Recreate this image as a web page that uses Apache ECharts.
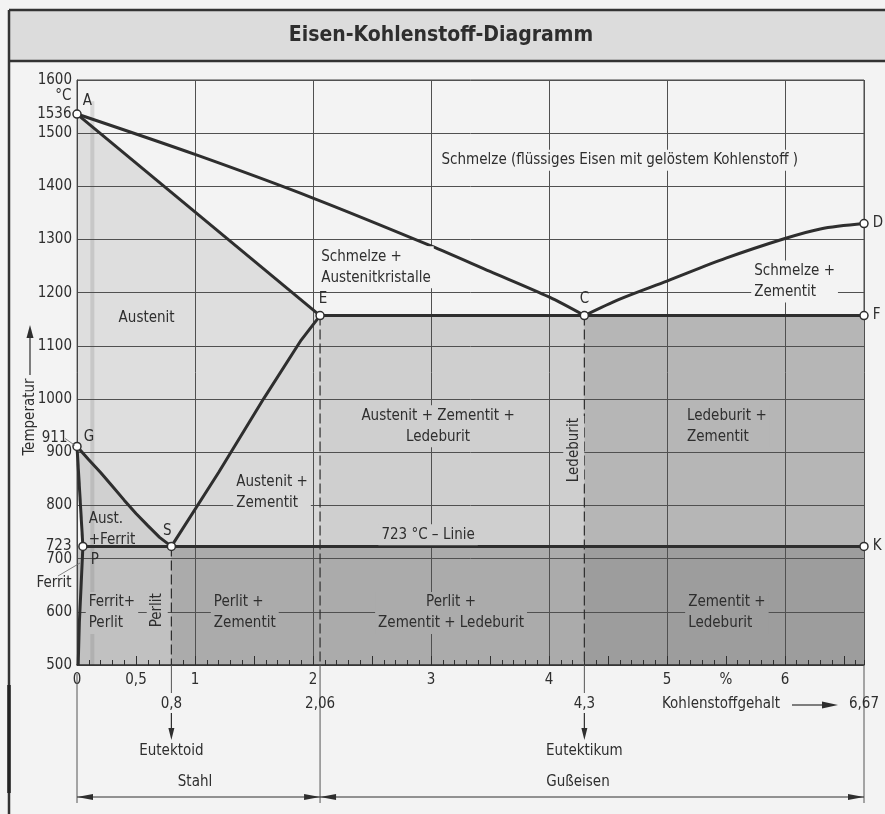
<!DOCTYPE html>
<html>
<head>
<meta charset="utf-8">
<title>Eisen-Kohlenstoff-Diagramm</title>
<script src="https://cdn.jsdelivr.net/npm/echarts@6/dist/echarts.min.js"></script>
<style>
html, body { margin: 0; padding: 0; background: #f3f3f3; }
#main { width: 885px; height: 814px; }
</style>
</head>
<body>
<div id="main"></div>
<script>
var FONT = '"DejaVu Sans Condensed", "Liberation Sans Narrow", "DejaVu Sans", sans-serif';
var INK = '#2e2e2e';

// Achsen
var xTickValues = [0, 0.5, 1, 2, 3, 4, 5, 5.5, 6];
var xTickLabels = ['0', '0,5', '1', '2', '3', '4', '5', '%', '6'];
var yExtraValues = [1536, 911, 723];
var yUnitAt = 1570;

// Linien (C in %, T in °C)
var liquidusAC = [[0, 1536], [1, 1460], [2, 1378], [3, 1288], [3.5, 1240], [4, 1192], [4.3, 1157]];
var liquidusCD = [[4.3, 1157], [4.6, 1188], [5, 1222], [5.5, 1265], [6, 1302], [6.3, 1320], [6.67, 1330]];
var solidusAE = [[0, 1536], [2.06, 1157]];
var lineECF = [[2.06, 1157], [6.67, 1157]];
var lineSE = [[0.8, 723], [1.2, 862], [1.58, 1000], [1.9, 1111], [2.06, 1157]];
var lineGS = [[0, 911], [0.1, 886], [0.2, 862], [0.3, 836], [0.4, 810], [0.5, 785], [0.6, 762], [0.7, 740], [0.8, 723]];
var lineGP = [[0, 911], [0.05, 723]];
var linePQ = [[0.05, 723], [0.035, 650], [0.02, 580], [0.01, 500]];
var linePSK = [[0.05, 723], [6.67, 723]];

// Punkte
var pointNames = ['A', 'E', 'C', 'D', 'F', 'G', 'P', 'S', 'K'];
var pointValues = [[0, 1536], [2.06, 1157], [4.3, 1157], [6.67, 1330], [6.67, 1157], [0, 911], [0.05, 723], [0.8, 723], [6.67, 723]];

// Kennwerte unter der Achse
var keyCarbon = [0.8, 2.06, 4.3, 6.67];
var keyCarbonLabels = ['0,8', '2,06', '4,3', '6,67'];

// Bereichstexte
var regionTexts = [
    'Schmelze (flüssiges Eisen mit gelöstem Kohlenstoff )',
    'Schmelze +\nAustenitkristalle',
    'Austenit',
    'Schmelze +\nZementit',
    'Austenit + Zementit +\nLedeburit',
    'Ledeburit',
    'Ledeburit +\nZementit',
    'Austenit +\nZementit',
    'Aust.\n+Ferrit',
    '723 °C – Linie',
    'Ferrit+\nPerlit',
    'Perlit',
    'Perlit +\nZementit',
    'Perlit +\nZementit + Ledeburit',
    'Zementit +\nLedeburit'
];
var regionAnchors = [[3.06, 1449], [2.04, 1248], [0.59, 1152], [5.71, 1221], [3.06, 949], [4.21, 904], [5.14, 949],
    [1.32, 825], [0.07, 754], [2.55, 745], [0.07, 598], [0.68, 603], [1.13, 598], [3.17, 598], [5.15, 598]];

function rev(a) { return a.slice().reverse(); }

//Flächen
var fillPolys = [
    solidusAE.concat(rev(lineSE), rev(lineGS)),                 // Austenit
    lineGS.concat(rev(lineGP)),                                  // Aust + Ferrit
    lineSE.concat([[2.06, 723]]),                                // Austenit + Zementit
    [[2.06, 1157], [4.3, 1157], [4.3, 723], [2.06, 723]],
    [[4.3, 1157], [6.67, 1157], [6.67, 723], [4.3, 723]],
    [[0, 723], [0.8, 723], [0.8, 500], [0, 500]],
    [[0.8, 723], [2.06, 723], [2.06, 500], [0.8, 500]],
    [[2.06, 723], [4.3, 723], [4.3, 500], [2.06, 500]],
    [[4.3, 723], [6.67, 723], [6.67, 500], [4.3, 500]]
];
var fillColors = ['#dedede', '#d0d0d0', '#d9d9d9', '#cfcfcf', '#b6b6b6', '#c1c1c1', '#ababab', '#ababab', '#9d9d9d'];
var regionBg = ['#f3f3f3', '#f3f3f3', '#dedede', '#f3f3f3', '#cfcfcf', '#cfcfcf', '#b6b6b6',
    '#d9d9d9', null, '#cfcfcf', '#c1c1c1', '#c1c1c1', '#ababab', '#ababab', '#9d9d9d'];
var regionMode = ['left', 'left', 'center', 'left', 'center', 'vertical', 'left',
    'left', 'left', 'left', 'left', 'vertical', 'left', 'center', 'left'];

var pointLabelPos = {
    A: ['right', [-3, -13]], E: ['top', [3, 0]], C: ['top', [0, 0]], D: ['right', [0, 0]], F: ['right', [0, 0]],
    G: ['right', [-2, -9]], P: ['right', [-1, 14]], S: ['top', [-4, 1]], K: ['right', [0, 0]]
};

var chart = echarts.init(document.getElementById('main'));

function curve(data, smooth) {
    return {
        type: 'line', data: data, symbol: 'none', clip: false, z: 5, silent: true, smooth: smooth || false,
        lineStyle: { color: INK, width: 3 }
    };
}
function dashed(data) {
    return {
        type: 'line', data: data, symbol: 'none', clip: false, z: 4, silent: true,
        lineStyle: { color: INK, width: 1.2, type: [10, 4] }
    };
}

var series = [];
series.push({
    type: 'custom', z: 1, silent: true, clip: false,
    data: fillPolys.map(function (p) { return p[0]; }),
    renderItem: function (params, api) {
        var i = params.dataIndex;
        var pts = fillPolys[i].map(function (p) { return api.coord(p); });
        return {
            type: 'polygon', shape: { points: pts },
            style: { fill: fillColors[i], stroke: fillColors[i], lineWidth: 0.6 }
        };
    }
});
// grauer Streifen im Scan
series.push({
    type: 'line', data: [[0.13, 1560], [0.13, 500]], symbol: 'none', z: 2, silent: true,
    lineStyle: { color: 'rgba(110,110,110,0.2)', width: 4 }
});
series.push(curve(liquidusAC, 0.3));
series.push(curve(liquidusCD, 0.3));
[solidusAE, lineECF, lineSE, lineGS, lineGP, linePQ, linePSK].forEach(function (c) {
    series.push(curve(c));
});
series.push(dashed([[0.8, 723], [0.8, 500]]));
series.push(dashed([[2.06, 1157], [2.06, 500]]));
series.push(dashed([[4.3, 1157], [4.3, 500]]));

series.push({
    type: 'scatter', z: 8, clip: false, silent: true, symbol: 'circle', symbolSize: 8,
    itemStyle: { color: '#ffffff', borderColor: INK, borderWidth: 1.5, opacity: 1 },
    data: pointValues.map(function (v, i) {
        var lp = pointLabelPos[pointNames[i]];
        return {
            value: v,
            label: {
                show: true, formatter: pointNames[i], position: lp[0], offset: lp[1], distance: 4,
                color: INK, fontSize: 15, fontFamily: FONT
            }
        };
    })
});

series.push({
    type: 'scatter', z: 9, clip: false, silent: true, symbolSize: 1,
    itemStyle: { color: 'rgba(0,0,0,0)', opacity: 1 },
    data: regionTexts.map(function (t, i) {
        var m = regionMode[i];
        var lab = {
            show: true, formatter: t, color: INK, opacity: 1, fontSize: 15, fontFamily: FONT, lineHeight: 21,
            padding: [0, 3]
        };
        if (regionBg[i]) lab.backgroundColor = regionBg[i];
        if (m === 'left') { lab.position = 'right'; lab.distance = 0; lab.align = 'left'; }
        else if (m === 'center') { lab.position = 'inside'; lab.align = 'center'; }
        else { lab.position = 'inside'; lab.rotate = 90; lab.padding = [0, 2]; }
        return { value: regionAnchors[i], label: lab };
    })
});

// zusätzliche Temperaturwerte
series.push({
    type: 'scatter', z: 9, clip: false, silent: true, symbolSize: 1,
    itemStyle: { color: 'rgba(0,0,0,0)', opacity: 1 },
    data: yExtraValues.map(function (v) {
        return { value: [0, v], label: { show: true, formatter: String(v), position: 'left', distance: 5, offset: v === 911 ? [-4, -8] : [0, 0] } };
    }).concat([{ value: [0, yUnitAt], label: { show: true, formatter: '°C', position: 'left', distance: 5 } }]),
    label: { color: INK, opacity: 1, fontSize: 15, fontFamily: FONT }
});

var option = {
    animation: false,
    backgroundColor: '#f3f3f3',
    grid: { left: 77, right: 21, top: 80, bottom: 149, show: true, borderColor: '#444', borderWidth: 1, backgroundColor: 'transparent' },
    xAxis: [
        {
            type: 'value', min: 0, max: 6.67, interval: 0.5, position: 'bottom', z: 3,
            axisLine: { show: true, onZero: false, lineStyle: { color: INK, width: 1.5 } },
            axisTick: { show: true, inside: true, length: 9, lineStyle: { color: INK, width: 1 } },
            axisLabel: {
                color: INK, fontSize: 15, fontFamily: FONT, margin: 8, showMaxLabel: false,
                formatter: function (v) {
                    for (var i = 0; i < xTickValues.length; i++) {
                        if (Math.abs(v - xTickValues[i]) < 1e-6) return xTickLabels[i];
                    }
                    return '';
                }
            },
            splitLine: { show: false }
        },
        {
            type: 'value', min: 0, max: 6.67, interval: 1, position: 'bottom', z: 3,
            axisLine: { show: false }, axisTick: { show: false }, axisLabel: { show: false },
            splitLine: { show: true, lineStyle: { color: '#505050', width: 1 } }
        },
        {
            type: 'value', min: 0, max: 6.67, interval: 0.1, position: 'bottom', z: 3,
            axisLine: { show: false }, axisLabel: { show: false }, splitLine: { show: false },
            axisTick: { show: true, inside: true, length: 5, lineStyle: { color: INK, width: 1 } }
        }
    ],
    yAxis: {
        type: 'value', min: 500, max: 1600, interval: 100, z: 3,
        axisLine: { show: true, lineStyle: { color: '#444' } },
        axisTick: { show: false },
        axisLabel: { color: INK, fontSize: 15, fontFamily: FONT, margin: 5, formatter: function (v) { return String(v); } },
        splitLine: { show: true, lineStyle: { color: '#505050', width: 1 } }
    },
    series: series
};
chart.setOption(option);

// Beschriftung außerhalb des Diagramms
function px(x, y) { return chart.convertToPixel({ gridIndex: 0 }, [x, y]); }
function txt(x, y, s, size, align, rot, weight) {
    return {
        type: 'text', x: x, y: y, rotation: rot || 0, z: 20,
        style: {
            text: s, font: (weight || 'normal') + ' ' + size + 'px ' + FONT, fill: INK,
            align: align || 'center', verticalAlign: 'middle', textAlign: align || 'center', textVerticalAlign: 'middle'
        }
    };
}
function seg(x1, y1, x2, y2, w, c) {
    return { type: 'line', z: 20, shape: { x1: x1, y1: y1, x2: x2, y2: y2 }, style: { stroke: c || INK, lineWidth: w || 1 } };
}
function tri(pts) { return { type: 'polygon', z: 20, shape: { points: pts }, style: { fill: INK } }; }

var base = px(0, 500)[1];
var x0 = px(0, 500)[0];
var g = [];
var kx = keyCarbon.map(function (c) { return px(c, 500)[0]; });

// Titelband
g.push({ type: 'rect', z: 10, shape: { x: 9, y: 10, width: 876, height: 51 }, style: { fill: '#dcdcdc' } });
g.push(seg(9, 10, 885, 10, 2.5, '#333'));
g.push(seg(9, 61, 885, 61, 2.5, '#333'));
g.push(txt(441, 36, 'Eisen-Kohlenstoff-Diagramm', 21, 'center', 0, 'bold'));
g.push(seg(9, 10, 9, 814, 2.5, '#333'));
g.push(seg(9, 685, 9, 793, 3.5, '#222'));

// Temperaturachse
g.push(txt(30, 417, 'Temperatur', 15, 'center', Math.PI / 2));
g.push(seg(30, 375, 30, 336, 1.2));
g.push(tri([[26.5, 338], [33.5, 338], [30, 325]]));

// Ferrit-Hinweis
g.push(txt(54, 583, 'Ferrit', 15, 'center'));
g.push(seg(58, 576, 80, 563, 0.8, '#666'));
var gp = px(0, 911);
g.push(seg(gp[0] - 12, gp[1] - 8, gp[0] - 2, gp[1] - 1, 0.8, '#666'));

// Kennlinien unter der Achse
g.push(seg(x0, base + 9, x0, 803, 1, '#555'));
g.push(seg(kx[0], base, kx[0], base + 28, 1, '#555'));
g.push(seg(kx[1], base, kx[1], 803, 1, '#555'));
g.push(seg(kx[2], base, kx[2], base + 28, 1, '#555'));
g.push(seg(kx[3], base, kx[3], 803, 1, '#555'));
keyCarbonLabels.forEach(function (s, i) { g.push(txt(kx[i], 704, s, 15, 'center')); });

// Eutektoid / Eutektikum
[0, 2].forEach(function (i) {
    g.push(seg(kx[i], 713, kx[i], 730, 1.2));
    g.push(tri([[kx[i] - 3, 728], [kx[i] + 3, 728], [kx[i], 740]]));
});
g.push(txt(kx[0], 751, 'Eutektoid', 15, 'center'));
g.push(txt(kx[2], 751, 'Eutektikum', 15, 'center'));

// Kohlenstoffgehalt
g.push(txt(662, 704, 'Kohlenstoffgehalt', 15, 'left'));
g.push(seg(792, 705, 824, 705, 1.2));
g.push(tri([[822, 701.5], [822, 708.5], [838, 705]]));

// Stahl / Gußeisen
g.push(txt(195, 782, 'Stahl', 15, 'center'));
g.push(txt(578, 782, 'Gußeisen', 15, 'center'));
function dbl(a, b, y) {
    g.push(seg(a, y, b, y, 1));
    g.push(tri([[a, y], [a + 16, y - 3], [a + 16, y + 3]]));
    g.push(tri([[b, y], [b - 16, y - 3], [b - 16, y + 3]]));
}
dbl(x0, kx[1], 797);
dbl(kx[1], kx[3], 797);

chart.setOption({ graphic: { elements: g } });
</script>
</body>
</html>
